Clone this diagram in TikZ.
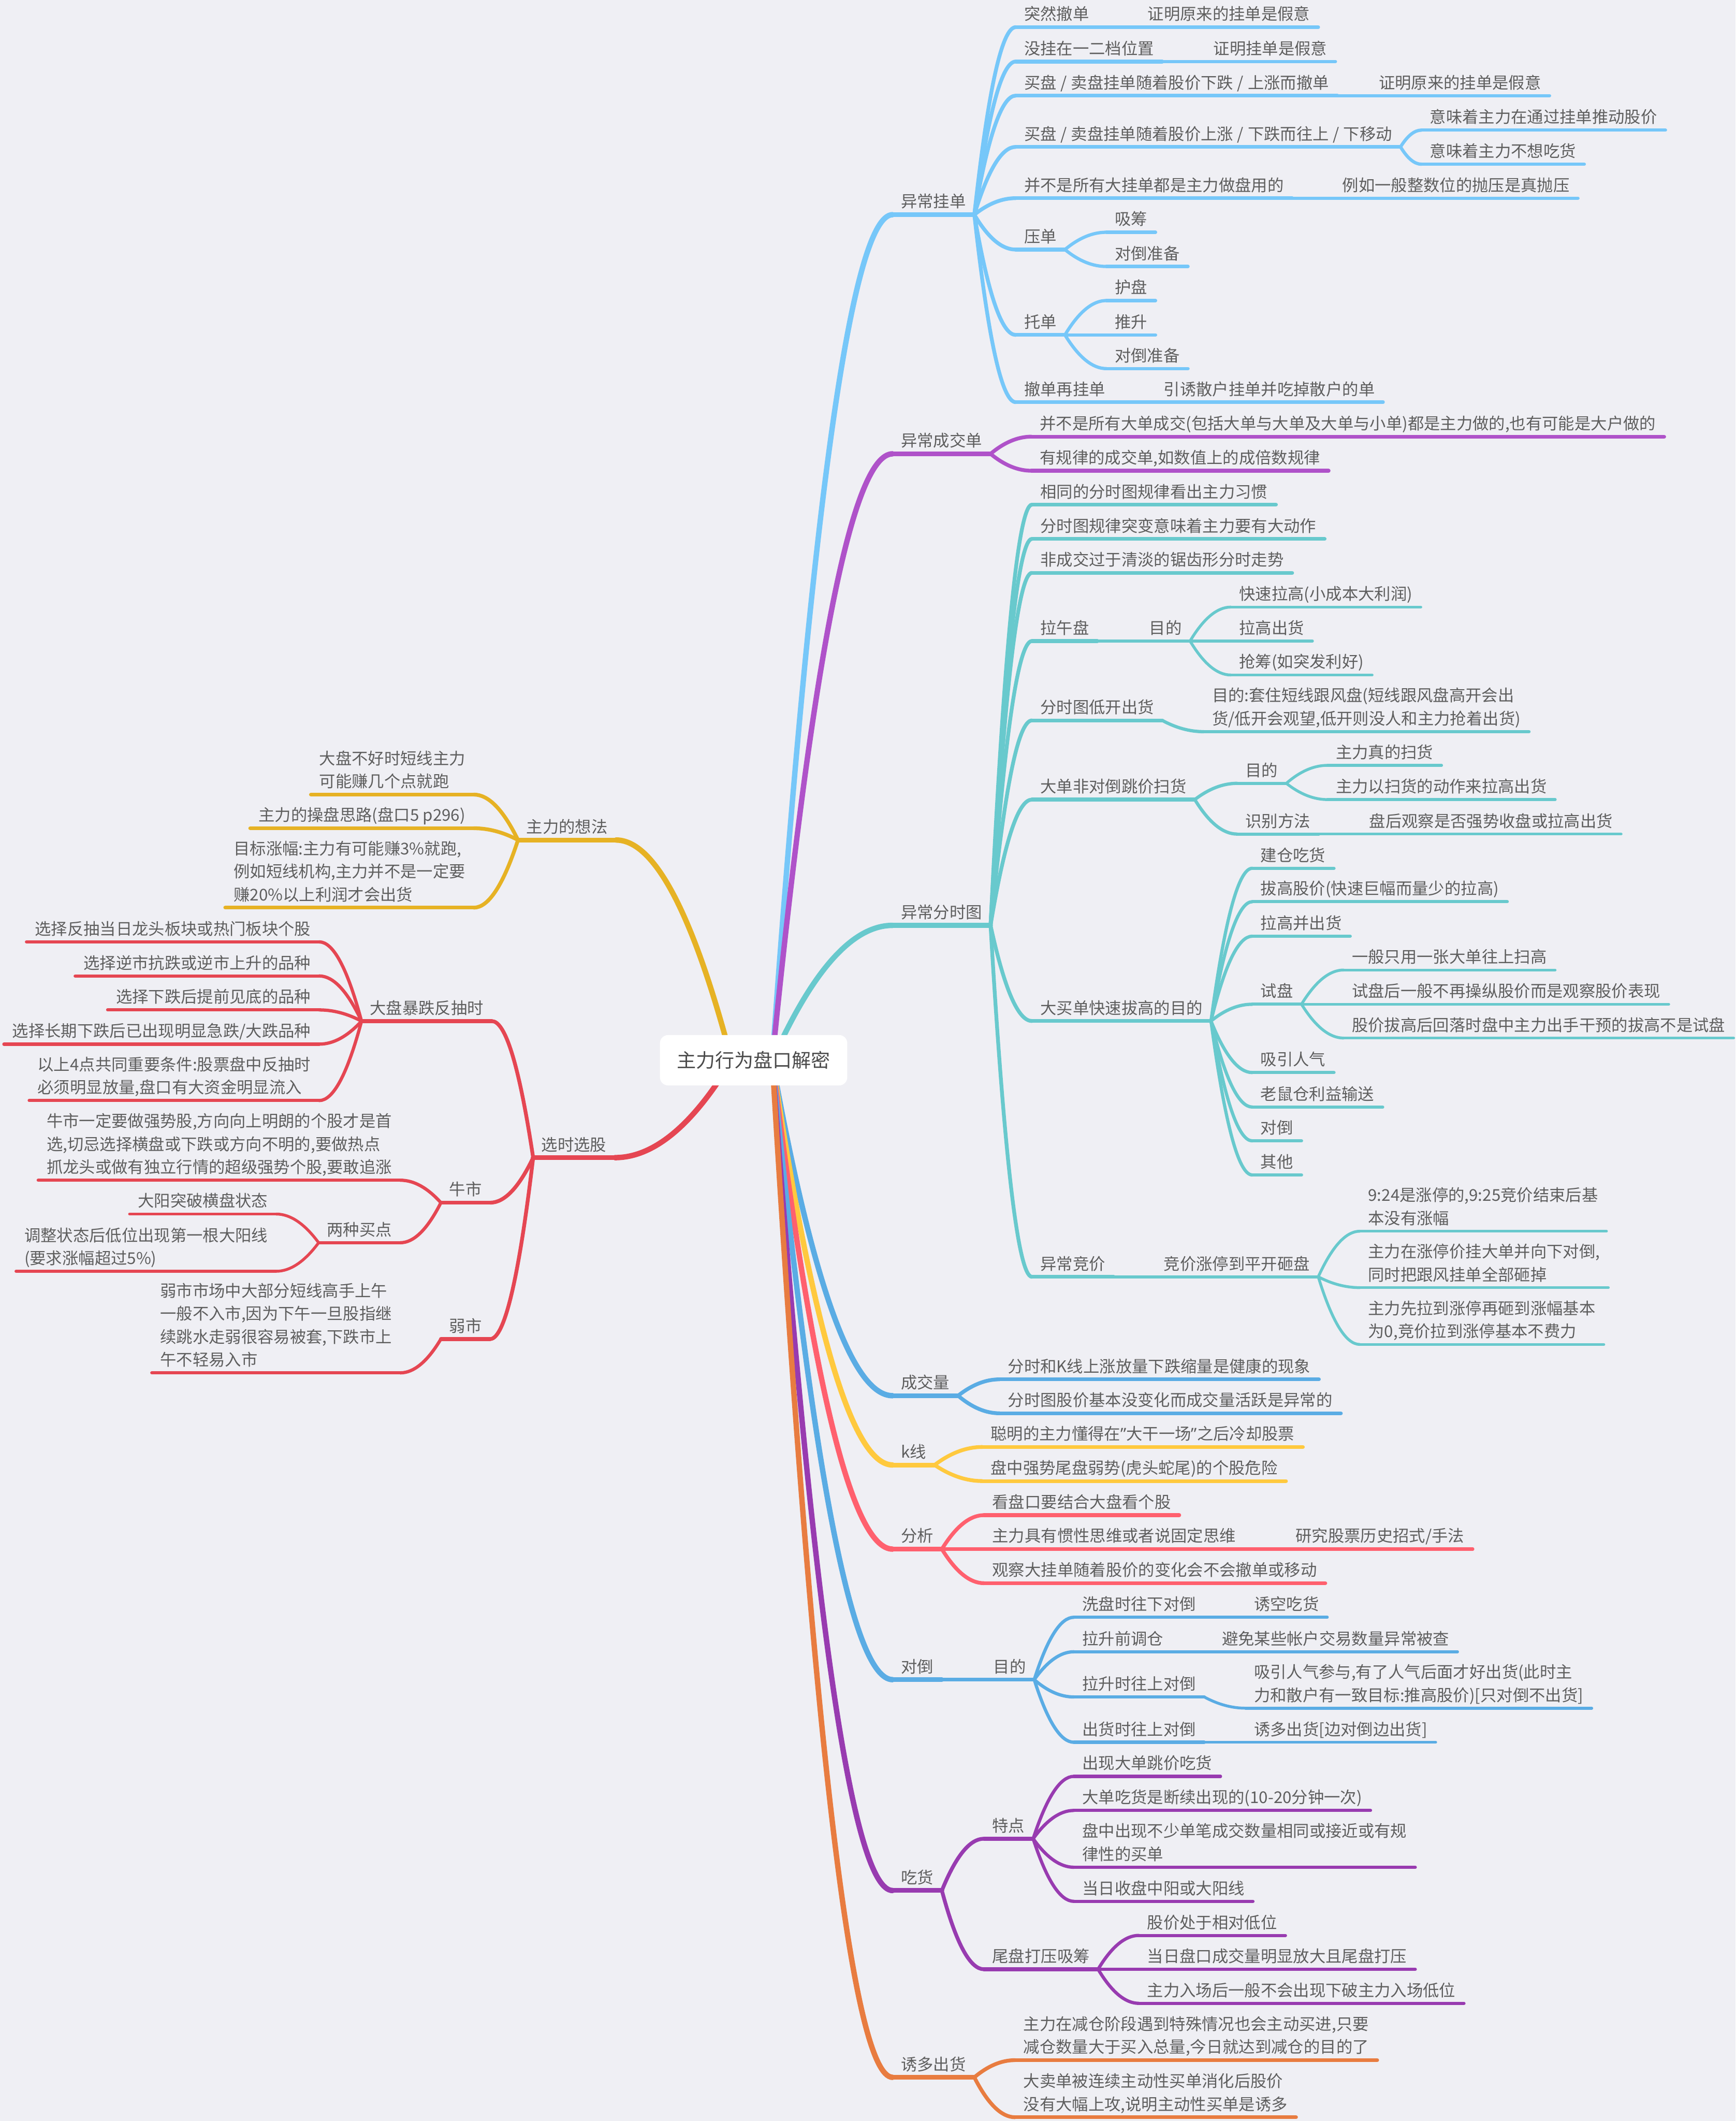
\documentclass[tikz,border=0pt]{standalone}
\usepackage{fontspec}
\setmainfont{Noto Sans CJK SC}
\newfontfamily\qfont{Noto Sans}
\usetikzlibrary{calc}
\definecolor{bgc}{HTML}{EFEFF4}
\definecolor{txtc}{HTML}{5E5E5E}
\definecolor{rootc}{HTML}{4A4A4A}
\definecolor{cA}{HTML}{76C7F9}
\definecolor{cB}{HTML}{AF52C9}
\definecolor{cC}{HTML}{68C9CD}
\definecolor{cD}{HTML}{5AACE4}
\definecolor{cE}{HTML}{FFC93E}
\definecolor{cF}{HTML}{FF606E}
\definecolor{cG}{HTML}{983BB0}
\definecolor{cH}{HTML}{E87C40}
\definecolor{cI}{HTML}{E6B224}
\definecolor{cJ}{HTML}{E54652}
\newcommand\wsl{\hspace{3pt}/\hspace{3pt}}
\newcommand\myrq{{\qfont ”}}
\tikzset{
  txt/.style={font=\fontsize{12}{17}\selectfont, text=txtc, inner xsep=6pt, inner ysep=0pt, align=left},
  rootbox/.style={fill=white, rounded corners=6pt, minimum width=138.5pt, minimum height=37.2pt, inner sep=0pt, font=\fontsize{14.2}{17}\selectfont, text=rootc}
}
% right-side node: name, x of left end, y of underline, colour, width, text
\newcommand\mkR[6]{\node[txt,anchor=south west] (#1) at (#2,#3) {#6\rule[-5pt]{0pt}{0pt}};
  \draw[#4,line width=#5,line cap=round] (#1.south west) -- (#1.south east);}
% left-side node: name, x of right end, y of underline, colour, width, text
\newcommand\mkL[6]{\node[txt,anchor=south east] (#1) at (#2,#3) {#6\rule[-5pt]{0pt}{0pt}};
  \draw[#4,line width=#5,line cap=round] (#1.south west) -- (#1.south east);}
% connector: from, to, colour, width
\newcommand\mkC[4]{\draw[#3,line width=#4,line cap=round] let \p1=(#1),\p2=(#2) in (\p1) .. controls ({\x1+(\x2-\x1)/3},{\y1+2*(\y2-\y1)/3}) and ({\x2-(\x2-\x1)/3},{\y2}) .. (\p2);}
\newcommand\cR[4]{\mkC{#1.south east}{#2.south west}{#3}{#4}}
\newcommand\cL[4]{\mkC{#1.south west}{#2.south east}{#3}{#4}}
\begin{document}
\begin{tikzpicture}[x=1pt,y=-1pt]
\useasboundingbox (0,0) rectangle (1283.2,1568);
\fill[bgc] (0,0) rectangle (1283.2,1568);

% ===== 异常挂单 =====
\mkR{gd}{660}{158.7}{cA}{3.5pt}{异常挂单}
\mkR{g1}{751}{20.1}{cA}{2.8pt}{突然撤单}
\mkR{g1a}{842.4}{20.1}{cA}{2.4pt}{证明原来的挂单是假意}
\mkR{g2}{751}{45.5}{cA}{2.8pt}{没挂在一二档位置}
\mkR{g2a}{891}{45.5}{cA}{2.4pt}{证明挂单是假意}
\mkR{g3}{751}{70.7}{cA}{2.8pt}{买盘\wsl 卖盘挂单随着股价下跌\wsl 上涨而撤单}
\mkR{g3a}{1013.3}{70.7}{cA}{2.4pt}{证明原来的挂单是假意}
\mkR{g4}{751}{108.6}{cA}{2.8pt}{买盘\wsl 卖盘挂单随着股价上涨\wsl 下跌而往上\wsl 下移动}
\mkR{g4a}{1051}{96.2}{cA}{2.4pt}{意味着主力在通过挂单推动股价}
\mkR{g4b}{1051}{121.4}{cA}{2.4pt}{意味着主力不想吃货}
\mkR{g5}{751}{146.5}{cA}{2.8pt}{并不是所有大挂单都是主力做盘用的}
\mkR{g5a}{986.3}{146.5}{cA}{2.4pt}{例如一般整数位的抛压是真抛压}
\mkR{g6}{751}{184.5}{cA}{2.8pt}{压单}
\mkR{g6a}{818}{171.7}{cA}{2.4pt}{吸筹}
\mkR{g6b}{818}{197}{cA}{2.4pt}{对倒准备}
\mkR{g7}{751}{247.6}{cA}{2.8pt}{托单}
\mkR{g7a}{818}{222.2}{cA}{2.4pt}{护盘}
\mkR{g7b}{818}{247.6}{cA}{2.4pt}{推升}
\mkR{g7c}{818}{272.5}{cA}{2.4pt}{对倒准备}
\mkR{g8}{751}{297.3}{cA}{2.8pt}{撤单再挂单}
\mkR{g8a}{854.3}{297.3}{cA}{2.4pt}{引诱散户挂单并吃掉散户的单}
\foreach \c in {g1,g2,g3,g4,g5,g6,g7,g8}{\cR{gd}{\c}{cA}{2.8pt}}
\cR{g1}{g1a}{cA}{2.4pt}
\cR{g2}{g2a}{cA}{2.4pt}
\cR{g3}{g3a}{cA}{2.4pt}
\cR{g4}{g4a}{cA}{2.4pt}
\cR{g4}{g4b}{cA}{2.4pt}
\cR{g5}{g5a}{cA}{2.4pt}
\cR{g6}{g6a}{cA}{2.4pt}
\cR{g6}{g6b}{cA}{2.4pt}
\cR{g7}{g7a}{cA}{2.4pt}
\cR{g7}{g7b}{cA}{2.4pt}
\cR{g7}{g7c}{cA}{2.4pt}
\cR{g8}{g8a}{cA}{2.4pt}

% ===== 异常成交单 =====
\mkR{cj}{660}{335.5}{cB}{3.5pt}{异常成交单}
\mkR{c1}{762.6}{322.8}{cB}{2.8pt}{并不是所有大单成交(包括大单与大单及大单与小单)都是主力做的,也有可能是大户做的}
\mkR{c2}{762.6}{348}{cB}{2.8pt}{有规律的成交单,如数值上的成倍数规律}
\cR{cj}{c1}{cB}{2.8pt}
\cR{cj}{c2}{cB}{2.8pt}

% ===== 异常分时图 =====
\mkR{fs}{660}{684.1}{cC}{3.5pt}{异常分时图}
\mkR{f1}{763}{373.1}{cC}{2.8pt}{相同的分时图规律看出主力习惯}
\mkR{f2}{763}{398.4}{cC}{2.8pt}{分时图规律突变意味着主力要有大动作}
\mkR{f3}{763}{423.5}{cC}{2.8pt}{非成交过于清淡的锯齿形分时走势}
\mkR{f4}{763}{473.9}{cC}{2.8pt}{拉午盘}
\mkR{f4a}{843.5}{473.9}{cC}{2.4pt}{目的}
\mkR{f4a1}{910}{448.8}{cC}{2.1pt}{快速拉高(小成本大利润)}
\mkR{f4a2}{910}{473.9}{cC}{2.1pt}{拉高出货}
\mkR{f4a3}{910}{499}{cC}{2.1pt}{抢筹(如突发利好)}
\mkR{f5}{763}{532.6}{cC}{2.8pt}{分时图低开出货}
\mkR{f5a}{890}{540.9}{cC}{2.4pt}{目的:套住短线跟风盘(短线跟风盘高开会出\\货/低开会观望,低开则没人和主力抢着出货)}
\mkR{f6}{763}{591.1}{cC}{2.8pt}{大单非对倒跳价扫货}
\mkR{f6a}{914.7}{579.1}{cC}{2.4pt}{目的}
\mkR{f6a1}{981.5}{565.8}{cC}{2.1pt}{主力真的扫货}
\mkR{f6a2}{981.5}{591.1}{cC}{2.1pt}{主力以扫货的动作来拉高出货}
\mkR{f6b}{914.7}{616.6}{cC}{2.4pt}{识别方法}
\mkR{f6b1}{1006.2}{616.6}{cC}{2.1pt}{盘后观察是否强势收盘或拉高出货}
\mkR{f7}{763}{754.8}{cC}{2.8pt}{大买单快速拔高的目的}
\mkR{f7a}{925.9}{641.9}{cC}{2.4pt}{建仓吃货}
\mkR{f7b}{925.9}{666.6}{cC}{2.4pt}{拔高股价(快速巨幅而量少的拉高)}
\mkR{f7c}{925.9}{692.1}{cC}{2.4pt}{拉高并出货}
\mkR{f7d}{925.9}{742.4}{cC}{2.4pt}{试盘}
\mkR{f7d1}{993.4}{717.1}{cC}{2.1pt}{一般只用一张大单往上扫高}
\mkR{f7d2}{993.4}{742.4}{cC}{2.1pt}{试盘后一般不再操纵股价而是观察股价表现}
\mkR{f7d3}{993.4}{767.4}{cC}{2.1pt}{股价拔高后回落时盘中主力出手干预的拔高不是试盘}
\mkR{f7e}{925.9}{792.9}{cC}{2.4pt}{吸引人气}
\mkR{f7f}{925.9}{818.4}{cC}{2.4pt}{老鼠仓利益输送}
\mkR{f7g}{925.9}{843.4}{cC}{2.4pt}{对倒}
\mkR{f7h}{925.9}{868.6}{cC}{2.4pt}{其他}
\mkR{f8}{763}{943.9}{cC}{2.8pt}{异常竞价}
\mkR{f8a}{854.3}{943.9}{cC}{2.4pt}{竞价涨停到平开砸盘}
\mkR{f8a1}{1005.4}{910.2}{cC}{2.1pt}{9:24是涨停的,9:25竞价结束后基\\本没有涨幅}
\mkR{f8a2}{1005.4}{951.9}{cC}{2.1pt}{主力在涨停价挂大单并向下对倒,\\同时把跟风挂单全部砸掉}
\mkR{f8a3}{1005.4}{993.9}{cC}{2.1pt}{主力先拉到涨停再砸到涨幅基本\\为0,竞价拉到涨停基本不费力}
\foreach \c in {f1,f2,f3,f4,f5,f6,f7,f8}{\cR{fs}{\c}{cC}{2.8pt}}
\cR{f4}{f4a}{cC}{2.4pt}
\foreach \c in {f4a1,f4a2,f4a3}{\cR{f4a}{\c}{cC}{2.1pt}}
\cR{f5}{f5a}{cC}{2.4pt}
\cR{f6}{f6a}{cC}{2.4pt}
\cR{f6}{f6b}{cC}{2.4pt}
\cR{f6a}{f6a1}{cC}{2.1pt}
\cR{f6a}{f6a2}{cC}{2.1pt}
\cR{f6b}{f6b1}{cC}{2.1pt}
\foreach \c in {f7a,f7b,f7c,f7d,f7e,f7f,f7g,f7h}{\cR{f7}{\c}{cC}{2.4pt}}
\foreach \c in {f7d1,f7d2,f7d3}{\cR{f7d}{\c}{cC}{2.1pt}}
\cR{f8}{f8a}{cC}{2.4pt}
\foreach \c in {f8a1,f8a2,f8a3}{\cR{f8a}{\c}{cC}{2.1pt}}

% ===== 成交量 =====
\mkR{vol}{660}{1031.8}{cD}{3.5pt}{成交量}
\mkR{v1}{739}{1019.7}{cD}{2.8pt}{分时和K线上涨放量下跌缩量是健康的现象}
\mkR{v2}{739}{1044.8}{cD}{2.8pt}{分时图股价基本没变化而成交量活跃是异常的}
\cR{vol}{v1}{cD}{2.8pt}
\cR{vol}{v2}{cD}{2.8pt}

% ===== k线 =====
\mkR{kx}{660}{1083}{cE}{3.5pt}{k线}
\mkR{k1}{726.3}{1069.7}{cE}{2.8pt}{聪明的主力懂得在\myrq 大干一场\myrq 之后冷却股票}
\mkR{k2}{726.3}{1094.9}{cE}{2.8pt}{盘中强势尾盘弱势(虎头蛇尾)的个股危险}
\cR{kx}{k1}{cE}{2.8pt}
\cR{kx}{k2}{cE}{2.8pt}

% ===== 分析 =====
\mkR{fx}{660}{1145.2}{cF}{3.5pt}{分析}
\mkR{a1}{727.5}{1120.1}{cF}{2.8pt}{看盘口要结合大盘看个股}
\mkR{a2}{727.5}{1145.2}{cF}{2.8pt}{主力具有惯性思维或者说固定思维}
\mkR{a2a}{951.8}{1145.2}{cF}{2.4pt}{研究股票历史招式/手法}
\mkR{a3}{727.5}{1170.4}{cF}{2.8pt}{观察大挂单随着股价的变化会不会撤单或移动}
\cR{fx}{a1}{cF}{2.8pt}
\cR{fx}{a2}{cF}{2.8pt}
\cR{fx}{a3}{cF}{2.8pt}
\cR{a2}{a2a}{cF}{2.4pt}

% ===== 对倒 =====
\mkR{dd}{660}{1241.7}{cD}{3.5pt}{对倒}
\mkR{dd1}{728.3}{1241.7}{cD}{2.8pt}{目的}
\mkR{d1}{794}{1195.6}{cD}{2.4pt}{洗盘时往下对倒}
\mkR{d1a}{921}{1195.6}{cD}{2.1pt}{诱空吃货}
\mkR{d2}{794}{1221.1}{cD}{2.4pt}{拉升前调仓}
\mkR{d2a}{897.3}{1221.1}{cD}{2.1pt}{避免某些帐户交易数量异常被查}
\mkR{d3}{794}{1254.5}{cD}{2.4pt}{拉升时往上对倒}
\mkR{d3a}{921}{1262.8}{cD}{2.1pt}{吸引人气参与,有了人气后面才好出货(此时主\\力和散户有一致目标:推高股价)[只对倒不出货]}
\mkR{d4}{794}{1288}{cD}{2.4pt}{出货时往上对倒}
\mkR{d4a}{921}{1288}{cD}{2.1pt}{诱多出货[边对倒边出货]}
\cR{dd}{dd1}{cD}{2.8pt}
\foreach \c in {d1,d2,d3,d4}{\cR{dd1}{\c}{cD}{2.4pt}}
\cR{d1}{d1a}{cD}{2.1pt}
\cR{d2}{d2a}{cD}{2.1pt}
\cR{d3}{d3a}{cD}{2.1pt}
\cR{d4}{d4a}{cD}{2.1pt}

% ===== 吃货 =====
\mkR{ch}{660}{1397.6}{cG}{3.5pt}{吃货}
\mkR{h1}{727.5}{1359.3}{cG}{2.8pt}{特点}
\mkR{h1a}{794}{1313.2}{cG}{2.4pt}{出现大单跳价吃货}
\mkR{h1b}{794}{1338.4}{cG}{2.4pt}{大单吃货是断续出现的(10-20分钟一次)}
\mkR{h1c}{794}{1380.4}{cG}{2.4pt}{盘中出现不少单笔成交数量相同或接近或有规\\律性的买单}
\mkR{h1d}{794}{1405.6}{cG}{2.4pt}{当日收盘中阳或大阳线}
\mkR{h2}{727.5}{1455.8}{cG}{2.8pt}{尾盘打压吸筹}
\mkR{h2a}{842}{1430.8}{cG}{2.4pt}{股价处于相对低位}
\mkR{h2b}{842}{1455.8}{cG}{2.4pt}{当日盘口成交量明显放大且尾盘打压}
\mkR{h2c}{842}{1481}{cG}{2.4pt}{主力入场后一般不会出现下破主力入场低位}
\cR{ch}{h1}{cG}{2.8pt}
\cR{ch}{h2}{cG}{2.8pt}
\foreach \c in {h1a,h1b,h1c,h1d}{\cR{h1}{\c}{cG}{2.4pt}}
\foreach \c in {h2a,h2b,h2c}{\cR{h2}{\c}{cG}{2.4pt}}

% ===== 诱多出货 =====
\mkR{yd}{660}{1535.7}{cH}{3.5pt}{诱多出货}
\mkR{y1}{750.5}{1523}{cH}{2.8pt}{主力在减仓阶段遇到特殊情况也会主动买进,只要\\减仓数量大于买入总量,今日就达到减仓的目的了}
\mkR{y2}{750.5}{1565.2}{cH}{2.8pt}{大卖单被连续主动性买单消化后股价\\没有大幅上攻,说明主动性买单是诱多}
\cR{yd}{y1}{cH}{2.8pt}
\cR{yd}{y2}{cH}{2.8pt}

% ===== 主力的想法 (left) =====
\mkL{zl}{455.4}{621}{cI}{3.5pt}{主力的想法}
\mkL{zl1}{350.3}{587.4}{cI}{2.8pt}{大盘不好时短线主力\\可能赚几个点就跑}
\mkL{zl2}{350.3}{612.3}{cI}{2.8pt}{主力的操盘思路(盘口5 p296)}
\mkL{zl3}{350.3}{671}{cI}{2.8pt}{目标涨幅:主力有可能赚3\%就跑,\\例如短线机构,主力并不是一定要\\赚20\%以上利润才会出货}
\foreach \c in {zl1,zl2,zl3}{\cL{zl}{\c}{cI}{2.8pt}}

% ===== 选时选股 (left) =====
\mkL{xg}{454.6}{855.8}{cJ}{3.5pt}{选时选股}
\mkL{dp}{363.7}{754.9}{cJ}{2.8pt}{大盘暴跌反抽时}
\mkL{dp1}{236}{696.3}{cJ}{2.4pt}{选择反抽当日龙头板块或热门板块个股}
\mkL{dp2}{236}{721.5}{cJ}{2.4pt}{选择逆市抗跌或逆市上升的品种}
\mkL{dp3}{236}{746.6}{cJ}{2.4pt}{选择下跌后提前见底的品种}
\mkL{dp4}{236}{771.9}{cJ}{2.4pt}{选择长期下跌后已出现明显急跌/大跌品种}
\mkL{dp5}{236}{813.6}{cJ}{2.4pt}{以上4点共同重要条件:股票盘中反抽时\\必须明显放量,盘口有大资金明显流入}
\mkL{nm}{362.4}{889.1}{cJ}{2.8pt}{牛市}
\mkL{nm1}{296}{872.5}{cJ}{2.4pt}{牛市一定要做强势股,方向向上明朗的个股才是首\\选,切忌选择横盘或下跌或方向不明的,要做热点\\抓龙头或做有独立行情的超级强势个股,要敢追涨}
\mkL{nm2}{296}{918.7}{cJ}{2.4pt}{两种买点}
\mkL{nm2a}{204.2}{897.5}{cJ}{2.1pt}{大阳突破横盘状态}
\mkL{nm2b}{204.2}{939.8}{cJ}{2.1pt}{调整状态后低位出现第一根大阳线\\(要求涨幅超过5\%)}
\mkL{rs}{362.4}{989.9}{cJ}{2.8pt}{弱市}
\mkL{rs1}{296}{1014.9}{cJ}{2.4pt}{弱市市场中大部分短线高手上午\\一般不入市,因为下午一旦股指继\\续跳水走弱很容易被套,下跌市上\\午不轻易入市}
\foreach \c in {dp,nm,rs}{\cL{xg}{\c}{cJ}{2.8pt}}
\foreach \c in {dp1,dp2,dp3,dp4,dp5}{\cL{dp}{\c}{cJ}{2.4pt}}
\cL{nm}{nm1}{cJ}{2.4pt}
\cL{nm}{nm2}{cJ}{2.4pt}
\cL{nm2}{nm2a}{cJ}{2.1pt}
\cL{nm2}{nm2b}{cJ}{2.1pt}
\cL{rs}{rs1}{cJ}{2.4pt}

% ===== root branches =====
\coordinate (rr) at (571,784);
\coordinate (rl) at (541,784);
\mkC{rr}{gd.south west}{cA}{4pt}
\mkC{rr}{cj.south west}{cB}{4pt}
\mkC{rr}{fs.south west}{cC}{4pt}
\mkC{rr}{vol.south west}{cD}{4pt}
\mkC{rr}{kx.south west}{cE}{4pt}
\mkC{rr}{fx.south west}{cF}{4pt}
\mkC{rr}{dd.south west}{cD}{4pt}
\mkC{rr}{ch.south west}{cG}{4pt}
\mkC{rr}{yd.south west}{cH}{4pt}
\mkC{rl}{zl.south east}{cI}{4pt}
\mkC{rl}{xg.south east}{cJ}{4pt}

\node[rootbox] (root) at (557.2,783.8) {主力行为盘口解密};
\end{tikzpicture}
\end{document}
